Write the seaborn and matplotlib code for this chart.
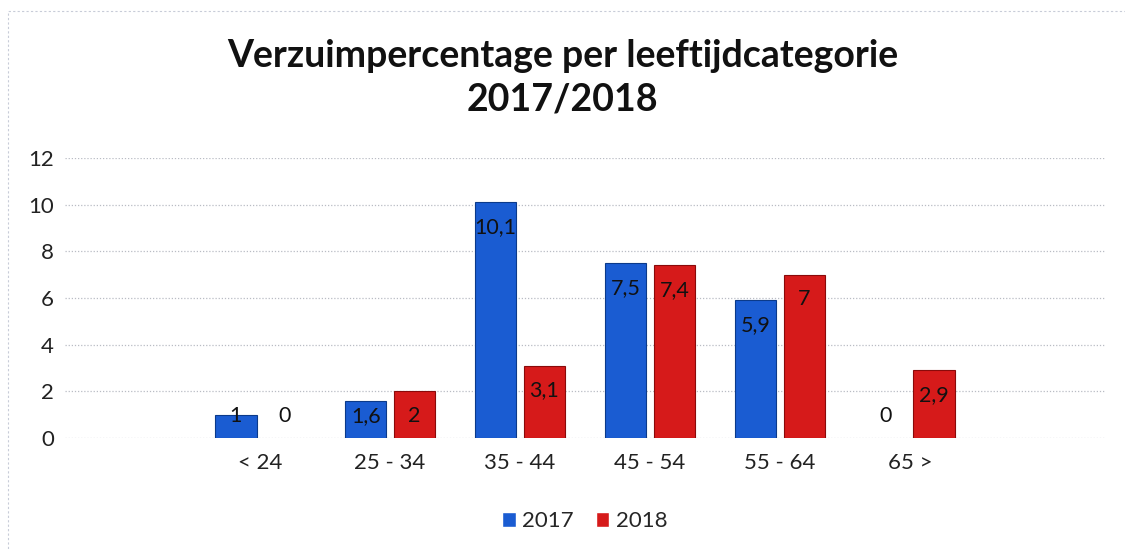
import pandas as pd
import matplotlib.pyplot as plt
import seaborn as sns
from matplotlib.patches import Rectangle

sns.set_theme(style="white")
plt.rcParams["font.family"] = ["Lato", "DejaVu Sans"]

categories = ["< 24", "25 - 34", "35 - 44", "45 - 54", "55 - 64", "65 >"]
values_2017 = [1, 1.6, 10.1, 7.5, 5.9, 0]
values_2018 = [0, 2, 3.1, 7.4, 7, 2.9]
years = ["2017", "2018"]

PALETTE = {"2017": "#1a5cd2", "2018": "#d61a1a"}
EDGES = {"2017": "#0b3a8a", "2018": "#8a0a0a"}

df = pd.DataFrame({
    "categorie": categories * 2,
    "jaar": [years[0]] * len(categories) + [years[1]] * len(categories),
    "pct": values_2017 + values_2018,
})

fig = plt.figure(figsize=(11.25, 5.49), dpi=100)
# light frame of the chart area
fig.patches.append(Rectangle((0.007, -0.02), 1.2, 1.0, transform=fig.transFigure,
                             fill=False, edgecolor="#c8ccd8", linewidth=0.8,
                             linestyle=(0, (2, 2))))
ax = fig.add_axes([0.058, 0.202, 0.924, 0.51])

sns.barplot(ax=ax, data=df, x="categorie", y="pct", hue="jaar",
            order=categories, hue_order=years, palette=PALETTE,
            width=0.75, gap=0.15, saturation=1, zorder=3, legend=True)

# darker outline per series + value labels inside the top of each bar
for cont, yr in zip(ax.containers, years):
    for bar in cont:
        v = bar.get_height()
        bar.set_edgecolor(EDGES[yr])
        bar.set_linewidth(0.8 if v > 0 else 0)
        label = f"{v:g}".replace(".", ",")
        y = max(v - 1.05, 0.95)
        ax.text(bar.get_x() + bar.get_width() / 2, y, label,
                ha="center", va="center", fontsize=15.5, color="#111111", zorder=4)

ax.set_xlim(-1.5, len(categories) + 0.5)
ax.set_ylim(0, 12)
ax.set_yticks(range(0, 13, 2))
ax.yaxis.grid(True, color="#b9bcc4", linestyle=(0, (1, 1.5)), linewidth=0.9, zorder=0)
ax.set_axisbelow(True)
for s in ax.spines.values():
    s.set_visible(False)
ax.tick_params(axis="both", length=0, labelsize=16, colors="#222222")
ax.tick_params(axis="x", pad=11)
ax.tick_params(axis="y", pad=8)
ax.set_xlabel("")
ax.set_ylabel("")

ax.legend(loc="upper center", bbox_to_anchor=(0.5, -0.19), ncol=2, frameon=False,
          fontsize=16, handlelength=0.6, handleheight=0.6, handletextpad=0.3,
          columnspacing=1.0)

fig.text(0.5, 0.858, "Verzuimpercentage per leeftijdcategorie\n2017/2018",
         ha="center", va="center", fontsize=27, fontweight="bold",
         color="#111111", linespacing=1.35)

fig.savefig("out.png", dpi=100)
